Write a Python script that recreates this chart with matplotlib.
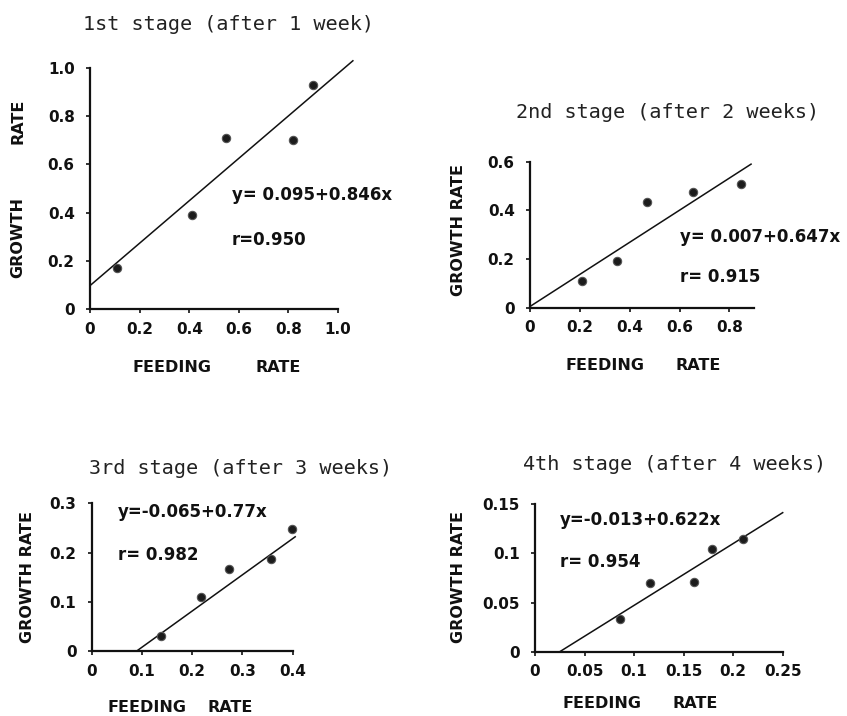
import matplotlib
matplotlib.use("Agg")
import matplotlib.pyplot as plt

W, H = 847, 716

# ---------------- data ----------------
titles = ["1st stage (after 1 week)", "2nd stage (after 2 weeks)",
          "3rd stage (after 3 weeks)", "4th stage (after 4 weeks)"]

feed1 = [0.107, 0.41, 0.548, 0.819, 0.90]
growth1 = [0.169, 0.39, 0.709, 0.702, 0.931]
feed2 = [0.209, 0.349, 0.469, 0.653, 0.847]
growth2 = [0.111, 0.192, 0.433, 0.477, 0.508]
feed3 = [0.137, 0.218, 0.274, 0.356, 0.399]
growth3 = [0.031, 0.110, 0.167, 0.186, 0.247]
feed4 = [0.0858, 0.116, 0.160, 0.179, 0.210]
growth4 = [0.033, 0.0696, 0.0713, 0.105, 0.115]

# regression lines as drawn (start / end points)
line1_x, line1_y = [0.0, 1.06], [0.097, 1.03]
line2_x, line2_y = [0.0, 0.887], [0.005, 0.59]
line3_x, line3_y = [0.0896, 0.405], [0.0, 0.232]
line4_x, line4_y = [0.025, 0.25], [0.0, 0.1415]

equations = ["y= 0.095+0.846x", "y= 0.007+0.647x", "y=-0.065+0.77x", "y=-0.013+0.622x"]
rvalues = ["r=0.950", "r= 0.915", "r= 0.982", "r= 0.954"]

xticks1, xtlab1 = [0, 0.2, 0.4, 0.6, 0.8, 1.0], ["0", "0.2", "0.4", "0.6", "0.8", "1.0"]
yticks1, ytlab1 = [0, 0.2, 0.4, 0.6, 0.8, 1.0], ["0", "0.2", "0.4", "0.6", "0.8", "1.0"]
xticks2, xtlab2 = [0, 0.2, 0.4, 0.6, 0.8], ["0", "0.2", "0.4", "0.6", "0.8"]
yticks2, ytlab2 = [0, 0.2, 0.4, 0.6], ["0", "0.2", "0.4", "0.6"]
xticks3, xtlab3 = [0, 0.1, 0.2, 0.3, 0.4], ["0", "0.1", "0.2", "0.3", "0.4"]
yticks3, ytlab3 = [0, 0.1, 0.2, 0.3], ["0", "0.1", "0.2", "0.3"]
xticks4, xtlab4 = [0, 0.05, 0.1, 0.15, 0.2, 0.25], ["0", "0.05", "0.1", "0.15", "0.2", "0.25"]
yticks4, ytlab4 = [0, 0.05, 0.1, 0.15], ["0", "0.05", "0.1", "0.15"]

# ---------------- layout (pixels) ----------------
fig = plt.figure(figsize=(W / 100, H / 100), dpi=100)
fig.patch.set_facecolor("white")


def ax_at(left, top, right, bottom):
    return fig.add_axes([left / W, 1 - bottom / H, (right - left) / W, (bottom - top) / H])


def ftext(px, py, s, **kw):
    fig.text(px / W, 1 - py / H, s, **kw)


panels = [
    dict(box=(90, 68, 338, 309), x=feed1, y=growth1, lx=line1_x, ly=line1_y,
         xlim=(0, 1.0), ylim=(0, 1.0), xt=xticks1, xl=xtlab1, yt=yticks1, yl=ytlab1),
    dict(box=(530, 161.7, 754.3, 307.7), x=feed2, y=growth2, lx=line2_x, ly=line2_y,
         xlim=(0, 0.9), ylim=(0, 0.6), xt=xticks2, xl=xtlab2, yt=yticks2, yl=ytlab2),
    dict(box=(91.7, 503.3, 292.7, 651), x=feed3, y=growth3, lx=line3_x, ly=line3_y,
         xlim=(0, 0.4), ylim=(0, 0.3), xt=xticks3, xl=xtlab3, yt=yticks3, yl=ytlab3),
    dict(box=(535, 504.3, 782.7, 651.7), x=feed4, y=growth4, lx=line4_x, ly=line4_y,
         xlim=(0, 0.25), ylim=(0, 0.15), xt=xticks4, xl=xtlab4, yt=yticks4, yl=ytlab4),
]

tick_font = dict(family="DejaVu Sans", weight="bold", size=11)

for p in panels:
    ax = ax_at(*p["box"])
    ax.set_xlim(*p["xlim"])
    ax.set_ylim(*p["ylim"])
    for s in ["top", "right"]:
        ax.spines[s].set_visible(False)
    for s in ["left", "bottom"]:
        ax.spines[s].set_linewidth(1.6)
        ax.spines[s].set_color("#111111")
    ax.set_xticks(p["xt"])
    ax.set_xticklabels(p["xl"], fontdict=tick_font, color="#111111")
    ax.set_yticks(p["yt"])
    ax.set_yticklabels(p["yl"], fontdict=tick_font, color="#111111")
    ax.tick_params(axis="x", length=3, width=1.2, pad=6, color="#111111")
    ax.tick_params(axis="y", length=3, width=1.2, pad=8, color="#111111")
    ax.plot(p["lx"], p["ly"], color="#111111", lw=1.1, clip_on=False)
    ax.plot(p["x"], p["y"], "o", color="#1c1c1c", markersize=6,
            markeredgecolor="#555555", markeredgewidth=0.8, clip_on=False, zorder=5)
    ax.patch.set_alpha(0)

title_font = dict(family="DejaVu Sans Mono", size=14.5, color="#222222")
ftext(228, 25, titles[0], ha="center", va="center", **title_font)
ftext(668, 113, titles[1], ha="center", va="center", **title_font)
ftext(241, 468, titles[2], ha="center", va="center", **title_font)
ftext(675, 465, titles[3], ha="center", va="center", **title_font)

eq_font = dict(family="DejaVu Sans", weight="bold", size=12, color="#111111")
ftext(232, 195, equations[0], ha="left", va="center", **eq_font)
ftext(232, 240, rvalues[0], ha="left", va="center", **eq_font)
ftext(680, 237, equations[1], ha="left", va="center", **eq_font)
ftext(680, 277, rvalues[1], ha="left", va="center", **eq_font)
ftext(118, 512, equations[2], ha="left", va="center", **eq_font)
ftext(118, 555, rvalues[2], ha="left", va="center", **eq_font)
ftext(560, 520, equations[3], ha="left", va="center", **eq_font)
ftext(560, 562, rvalues[3], ha="left", va="center", **eq_font)

lab_font = dict(family="DejaVu Sans", weight="bold", size=11.5, color="#111111")
# axis labels
ftext(18, 237, "GROWTH", rotation=90, ha="center", va="center", **lab_font)
ftext(18, 121, "RATE", rotation=90, ha="center", va="center", **lab_font)
ftext(172, 368, "FEEDING", ha="center", va="center", **lab_font)
ftext(278, 368, "RATE", ha="center", va="center", **lab_font)

ftext(458, 230, "GROWTH RATE", rotation=90, ha="center", va="center", **lab_font)
ftext(605, 365, "FEEDING", ha="center", va="center", **lab_font)
ftext(698, 365, "RATE", ha="center", va="center", **lab_font)

ftext(27, 577, "GROWTH RATE", rotation=90, ha="center", va="center", **lab_font)
ftext(147, 707, "FEEDING", ha="center", va="center", **lab_font)
ftext(230, 707, "RATE", ha="center", va="center", **lab_font)

ftext(458, 577, "GROWTH RATE", rotation=90, ha="center", va="center", **lab_font)
ftext(602, 703, "FEEDING", ha="center", va="center", **lab_font)
ftext(695, 703, "RATE", ha="center", va="center", **lab_font)

fig.savefig("out.png", dpi=100, facecolor="white")
